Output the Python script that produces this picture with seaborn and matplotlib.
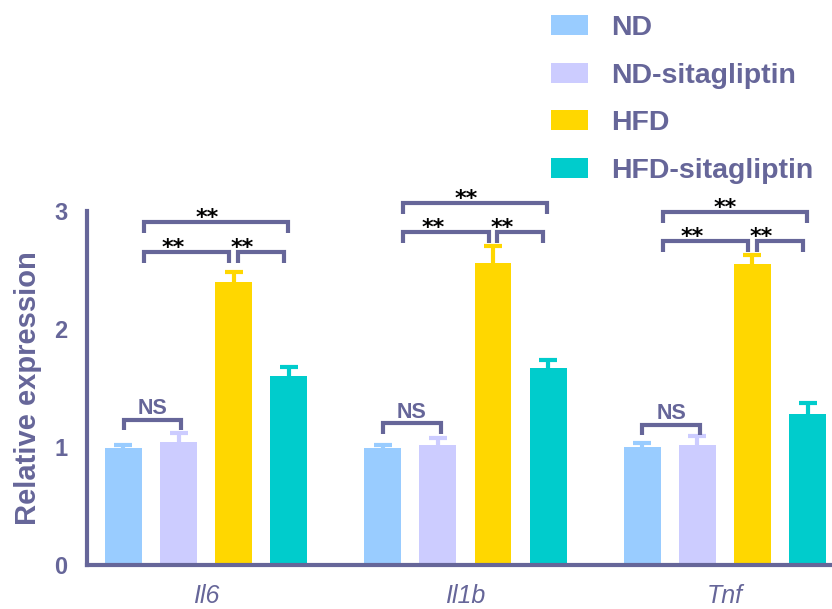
import numpy as np
import pandas as pd
import matplotlib
matplotlib.use("Agg")
import matplotlib.pyplot as plt
import seaborn as sns

# ---------------- data ----------------
genes = ["Il6", "Il1b", "Tnf"]
groups = ["ND", "ND-sitagliptin", "HFD", "HFD-sitagliptin"]
nd_mean = [0.99, 0.99, 1.00]
nd_sita_mean = [1.04, 1.02, 1.02]
hfd_mean = [2.40, 2.56, 2.55]
hfd_sita_mean = [1.60, 1.67, 1.28]
nd_err = [0.03, 0.03, 0.03]
nd_sita_err = [0.08, 0.06, 0.07]
hfd_err = [0.08, 0.14, 0.08]
hfd_sita_err = [0.08, 0.07, 0.09]
yticks = [0, 1, 2, 3]

# significance annotations per gene
top_sig = ["**", "**", "**"]
top_y = [2.905, 3.065, 2.99]
left_sig = ["**", "**", "**"]
low_y = [2.65, 2.82, 2.745]
right_sig = ["**", "**", "**"]
ns_sig = ["NS", "NS", "NS"]
ns_y = [1.23, 1.20, 1.19]

colors = ["#99CCFF", "#CCCCFF", "#FFD700", "#00CCCC"]
purple = "#666699"

means = [nd_mean, nd_sita_mean, hfd_mean, hfd_sita_mean]
errs = [nd_err, nd_sita_err, hfd_err, hfd_sita_err]
df = pd.DataFrame({
    "gene": np.repeat([genes], 4, axis=0).ravel(),
    "group": np.repeat(groups, 3),
    "value": np.concatenate(means),
})

sns.set_style("white")
plt.rcParams["font.family"] = ["Liberation Sans", "DejaVu Sans"]

fig = plt.figure(figsize=(8.32, 6.09), dpi=100)
ax = fig.add_axes([87 / 832, 1 - 565 / 609, 745 / 832, (565 - 211) / 609])

sns.barplot(data=df, x="gene", y="value", hue="group", hue_order=groups,
            order=genes, palette=colors, errorbar=None, width=0.85, gap=0.33,
            linewidth=0, saturation=1, ax=ax)

bar_containers = list(ax.containers)
# error bars (upper only) in bar color
for ci, cont in enumerate(bar_containers):
    xs = [b.get_x() + b.get_width() / 2 for b in cont]
    hs = [b.get_height() for b in cont]
    e = errs[ci]
    eb = ax.errorbar(xs, hs, yerr=[np.zeros(len(e)), e], fmt="none",
                     ecolor=colors[ci], elinewidth=3, capsize=6.5, capthick=3,
                     zorder=3)
    caps = eb[1]
    if len(caps) >= 2:
        caps[0].set_visible(False)

ax.set_ylim(0, 3)
ax.set_xlim(-0.459, 2.413)
ax.set_yticks(yticks)
ax.set_yticklabels([str(t) for t in yticks])

for s in ["top", "right"]:
    ax.spines[s].set_visible(False)
for s in ["left", "bottom"]:
    ax.spines[s].set_color(purple)
    ax.spines[s].set_linewidth(3)

ax.tick_params(axis="y", colors=purple, length=10, width=3, pad=4,
               labelsize=17)
for lab in ax.get_yticklabels():
    lab.set_fontweight("bold")
ax.tick_params(axis="x", length=0, pad=14, labelsize=18, labelcolor=purple)
for lab in ax.get_xticklabels():
    lab.set_fontstyle("italic")

ax.set_xlabel("")
ax.set_ylabel("Relative expression", fontsize=21, fontweight="bold",
              color=purple, labelpad=9)


def bracket(x1, x2, yh, leg, label, color_txt, fs, dx, dy, family, weight):
    ax.plot([x1, x1, x2, x2], [yh - leg, yh, yh, yh - leg], color=purple,
            lw=3, solid_joinstyle="miter", solid_capstyle="butt",
            clip_on=False, zorder=4)
    ax.annotate(label, xy=((x1 + x2) / 2 + dx, yh), xytext=(0, dy),
                textcoords="offset points", ha="center", va="baseline",
                fontsize=fs, fontweight=weight, color=color_txt,
                family=family, annotation_clip=False)


star_font = ["DejaVu Sans"]
leg = 0.09
for gi in range(len(genes)):
    c = gi
    bracket(c - 0.24, c + 0.315, top_y[gi], leg, top_sig[gi], "black", 16,
            -0.035, -1.2, star_font, "bold")
    bracket(c - 0.24, c + 0.09, low_y[gi], leg, left_sig[gi], "black", 16,
            -0.05, -1.2, star_font, "bold")
    bracket(c + 0.122, c + 0.30, low_y[gi], leg, right_sig[gi], "black", 16,
            -0.07, -1.2, star_font, "bold")
    bracket(c - 0.318, c - 0.095, ns_y[gi], leg, ns_sig[gi], purple, 15.5,
            0.0, 4.2, ["Liberation Sans"], "bold")

# legend
handles, labels = ax.get_legend_handles_labels()
if ax.get_legend() is not None:
    ax.get_legend().remove()
leg_obj = fig.legend(handles, labels, loc="upper left",
                     bbox_to_anchor=(551 / 832, 1 - 15 / 609),
                     frameon=False, prop={"weight": "bold", "size": 20.5},
                     handlelength=1.3, handleheight=0.7, handletextpad=0.8,
                     labelspacing=0.76, borderpad=0, borderaxespad=0)
for t in leg_obj.get_texts():
    t.set_color(purple)

fig.savefig("out.png", dpi=100)
